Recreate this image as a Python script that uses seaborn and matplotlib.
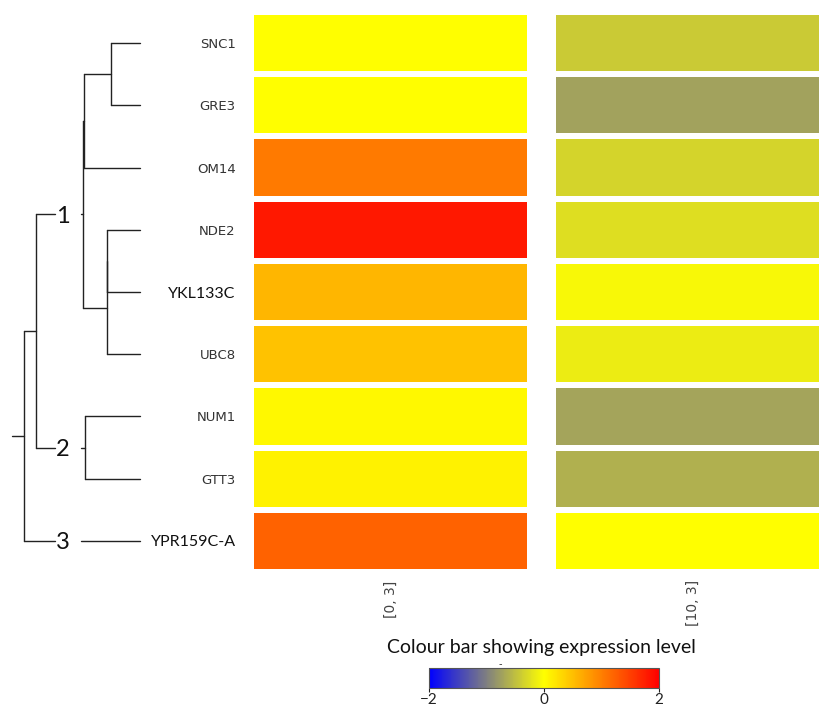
import numpy as np
import pandas as pd
import matplotlib
matplotlib.use("Agg")
import matplotlib.pyplot as plt
import seaborn as sns
from matplotlib.colors import LinearSegmentedColormap

# ============================================
# DATA
# ============================================

genes = ["SNC1", "GRE3", "OM14", "NDE2", "YKL133C", "UBC8", "NUM1", "GTT3", "YPR159C-A"]
conditions = ["[0, 3]", "[10, 3]"]
expr_0_3 = [0.0, 0.0, 1.04, 1.8, 0.57, 0.47, 0.05, 0.1, 1.23]
expr_10_3 = [-0.42, -0.72, -0.33, -0.26, -0.06, -0.15, -0.71, -0.61, 0.0]

# dendrogram merges: (child a, child b, height); leaves are 0..8, new nodes 9..
merges = [(0, 1, 29), (9, 2, 56), (3, 4, 33), (11, 5, 33.5),
          (10, 12, 57), (6, 7, 55), (13, 14, 104), (15, 8, 116)]
root_height = 128
cluster_nodes = [13, 14, 8]
cluster_labels = ["1", "2", "3"]

df = pd.DataFrame({conditions[0]: expr_0_3, conditions[1]: expr_10_3}, index=genes)

# ============================================
# STYLE
# ============================================

sns.set_style("white")
plt.rcParams["font.family"] = ["DejaVu Sans"]

cmap = LinearSegmentedColormap.from_list(
    "expr", [(0, 0, 1), (0.5, 0.5, 0.5), (1, 1, 0), (1, 0.5, 0), (1, 0, 0)])

W, H = 820, 707
fig = plt.figure(figsize=(W / 100, H / 100), dpi=100)


def px_axes(x0, y0, x1, y1):
    return fig.add_axes([x0 / W, 1 - y1 / H, (x1 - x0) / W, (y1 - y0) / H])


top, bottom = 12, 572

# ============================================
# HEATMAP (two separate columns)
# ============================================

ax1 = px_axes(251, top, 530, bottom)
ax2 = px_axes(553, top, 832, bottom)

for ax, col in zip([ax1, ax2], conditions):
    sns.heatmap(df[[col]], ax=ax, cmap=cmap, vmin=-2, vmax=2, cbar=False,
                linewidths=4.3, linecolor="white", yticklabels=False)
    ax.set_xticks([0.5])
    ax.set_xticklabels([col], rotation=90, fontsize=10, color="#444444")
    ax.tick_params(length=0, pad=6)
    ax.set_xlabel("")
    ax.set_ylabel("")

ax1.set_yticks(np.arange(len(genes)) + 0.5)
ax1.set_yticklabels(genes)
ax1.tick_params(axis="y", length=0, pad=11)
for lab in ax1.get_yticklabels():
    if lab.get_text() in ("YKL133C", "YPR159C-A"):
        lab.set_family(["Lato", "DejaVu Sans"])
        lab.set_fontsize(11.5)
        lab.set_color("#111111")
    else:
        lab.set_family(["Liberation Sans Narrow", "DejaVu Sans"])
        lab.set_fontsize(9.5)
        lab.set_color("#333333")

# ============================================
# DENDROGRAM
# ============================================

axd = px_axes(12, top, 140, bottom)
axd.set_xlim(root_height, 0)
axd.set_ylim(len(genes), 0)
axd.axis("off")

ypos = {i: i + 0.5 for i in range(len(genes))}
hpos = {i: 0.0 for i in range(len(genes))}
parent_h = {}
for k, (a, b, h) in enumerate(merges):
    node = len(genes) + k
    ypos[node] = (ypos[a] + ypos[b]) / 2
    hpos[node] = h
    parent_h[a] = h
    parent_h[b] = h
parent_h[len(genes) + len(merges) - 1] = root_height

line_kw = dict(color="#222222", lw=1.0, clip_on=False)
gap = (59, 85)

# vertical bars of each merge
for k, (a, b, h) in enumerate(merges):
    axd.plot([h, h], [ypos[a], ypos[b]], **line_kw)

# horizontal links from each node to its parent
for node, ph in parent_h.items():
    y = ypos[node]
    if node in cluster_nodes:
        axd.plot([hpos[node], gap[0]], [y, y], **line_kw)
        axd.plot([gap[1], ph], [y, y], **line_kw)
        axd.text(77, y + 0.03, cluster_labels[cluster_nodes.index(node)],
                 ha="center", va="center", fontsize=17,
                 family=["Lato", "DejaVu Sans"], color="#111111")
    else:
        axd.plot([hpos[node], ph], [y, y], **line_kw)

# ============================================
# COLOUR BAR
# ============================================

cax = px_axes(429, 668, 659, 688)
cb = fig.colorbar(ax1.collections[0], cax=cax, orientation="horizontal", ticks=[-2, 0, 2])
cb.outline.set_linewidth(0.8)
cb.outline.set_edgecolor("#555555")
cax.tick_params(length=3, width=0.8, pad=0.5, labelsize=11, colors="#222222")
for lab in cax.get_xticklabels():
    lab.set_family(["Lato", "DejaVu Sans"])

fig.text(541 / W, 1 - 648 / H, "Colour bar showing expression level",
         ha="center", va="center", fontsize=14, family=["Lato", "DejaVu Sans"],
         color="#111111")
fig.text(500 / W, 1 - 664 / H, "-", ha="center", va="center", fontsize=7, color="#333333")

fig.savefig("out.png", dpi=100)
